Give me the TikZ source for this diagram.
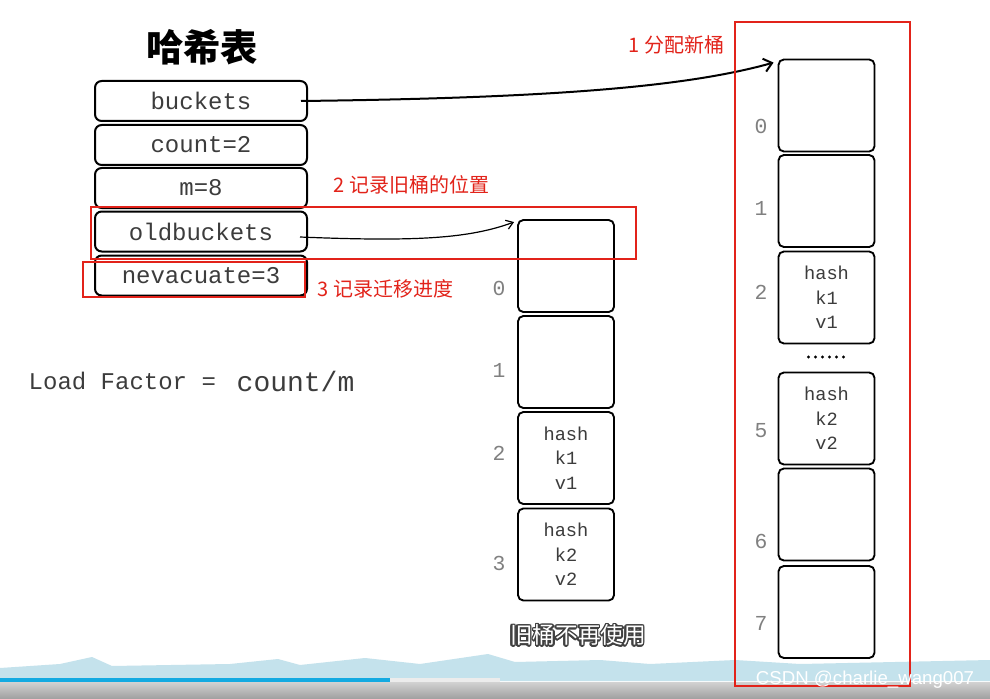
\documentclass[tikz,border=0pt]{standalone}
\usepackage{fontspec}
\newfontfamily\cjk{Noto Sans CJK SC}
\newfontfamily\codefont{Liberation Mono}
\newfontfamily\markfont{Liberation Sans}
\usepackage{contour}
\contourlength{1.1pt}
\contournumber{16}
\usetikzlibrary{arrows.meta,calc}

\definecolor{markred}{RGB}{226,35,26}
\definecolor{inkgray}{RGB}{60,60,60}
\definecolor{wavebl}{RGB}{196,226,236}
\definecolor{barbl}{RGB}{20,170,225}

\tikzset{
  field/.style={draw, line width=1.5pt, rounded corners=5pt, minimum width=159pt,
    minimum height=30pt, inner sep=0pt, text=inkgray, font=\codefont\fontsize{18}{20}\selectfont},
  bucket/.style={draw, line width=1.4pt, rounded corners=4pt, minimum width=72pt,
    minimum height=69pt, inner sep=0pt, align=center, text=inkgray,
    font=\codefont\fontsize{14}{18.5}\selectfont},
  idx/.style={text=gray, font=\codefont\fontsize{16}{18}\selectfont},
  note/.style={anchor=west, text=markred, font=\cjk\fontsize{15}{17}\selectfont},
  redbox/.style={draw=markred, line width=2pt},
}

\begin{document}
\begin{tikzpicture}[x=0.75pt, y=-0.75pt]
  \fill[white] (0,0) rectangle (990,699);
  \useasboundingbox (0,0) rectangle (990,699);

  % player strip at the bottom
  \begin{scope}
    \fill[wavebl] (0,681) -- (0,668) -- (60,664) -- (92,657) -- (112,666) -- (230,664)
      -- (278,659) -- (300,665) -- (365,658) -- (420,664) -- (488,654) -- (515,662)
      -- (600,660) -- (650,664) -- (735,660) -- (800,664) -- (990,660) -- (990,681) -- cycle;
    \shade[top color=gray!35, bottom color=gray!75] (0,682) rectangle (990,699);
    \fill[barbl] (0,678) rectangle (390,682);
    \fill[gray!15] (390,678) rectangle (500,682);
  \end{scope}

  % hash table header
  \node[font=\cjk\bfseries\fontsize{28}{30}\selectfont] (title) at (202,47) {哈希表};
  \node[field] (buckets) at (201,101) {buckets};
  \node[field] (count) at (201,145) {count=2};
  \node[field] (m) at (201,188) {m=8};
  \node[field] (oldbuckets) at (201,231.5) {oldbuckets};
  \node[field] (nevacuate) at (201,275.5) {nevacuate=3};

  \node[anchor=west, text=inkgray, font=\codefont\fontsize{18}{20}\selectfont] (lf) at (24,381) {Load Factor =};
  \node[anchor=west, text=inkgray, font=\codefont\fontsize{21}{24}\selectfont] (lfval) at (232,381) {count/m};

  % old buckets
  \node[bucket] (old0) at (566,266) {};
  \node[bucket] (old1) at (566,362) {};
  \node[bucket] (old2) at (566,458) {hash\\k1\\v1};
  \node[bucket] (old3) at (566,554.5) {hash\\k2\\v2};
  \node[idx] (oldidx0) at (499,288) {0};
  \node[idx] (oldidx1) at (499,370) {1};
  \node[idx] (oldidx2) at (499,453) {2};
  \node[idx] (oldidx3) at (499,563) {3};

  % new buckets
  \node[bucket] (new0) at (826.5,105.5) {};
  \node[bucket] (new1) at (826.5,201) {};
  \node[bucket] (new2) at (826.5,297.5) {hash\\k1\\v1};
  \node[bucket] (new5) at (826.5,418.5) {hash\\k2\\v2};
  \node[bucket] (new6) at (826.5,514.5) {};
  \node[bucket] (new7) at (826.5,612) {};
  \node[idx] (newidx0) at (761,126) {0};
  \node[idx] (newidx1) at (761,208) {1};
  \node[idx] (newidx2) at (761,292) {2};
  \node[idx] (newidx5) at (761,431) {5};
  \node[idx] (newidx6) at (761,541) {6};
  \node[idx] (newidx7) at (761,623) {7};
  \foreach \k in {0,...,5}
    \fill (808.5+7*\k,357) circle (1.3pt);

  % pointers
  \draw[line width=1.5pt, -{Straight Barb[length=6pt,width=10pt]}]
    ($(buckets.east)+(-7,0)$) .. controls (560,98) and (690,86) .. ($(new0.north west)+(-4,4)$);
  \draw[line width=0.9pt, -{Straight Barb[length=5pt,width=7pt]}]
    ($(oldbuckets.east)+(-8,5.5)$) .. controls (420,242) and (470,238) .. ($(old0.north west)+(-3,3)$);

  % red marks
  \draw[redbox] (91,207) rectangle (636,259);
  \draw[redbox] (83,262) rectangle (305,297);
  \draw[redbox] (735,22) rectangle (910,686);
  \node[note] (step1) at (624,45) {1 分配新桶};
  \node[note] (step2) at (329,185) {2 记录旧桶的位置};
  \node[note] (step3) at (313,289) {3 记录迁移进度};

  % captions
  \node[text=white, font=\cjk\fontsize{17}{19}\selectfont] (subtitle) at (578,636) {\contour{black!75}{旧桶不再使用}};
  \node[text=white, font=\markfont\fontsize{14}{16}\selectfont] (watermark) at (865,680) {CSDN @charlie\_wang007};
\end{tikzpicture}
\end{document}
